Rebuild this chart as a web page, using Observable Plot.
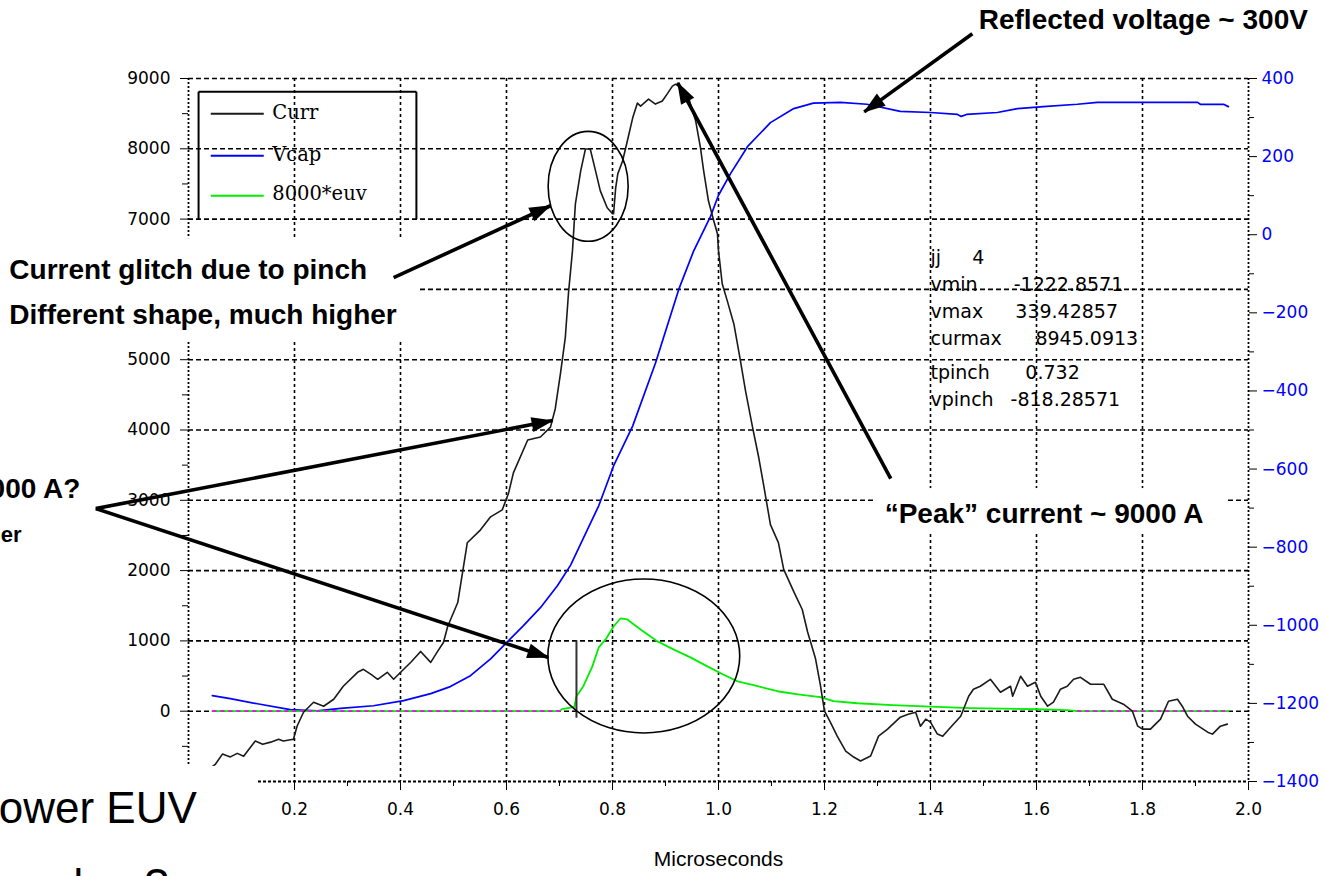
<!DOCTYPE html>
<html><head><meta charset="utf-8">
<script src="https://cdn.jsdelivr.net/npm/d3@7"></script>
<script src="https://cdn.jsdelivr.net/npm/@observablehq/plot@0.6"></script>
<style>
html,body{margin:0;padding:0;background:#fff;}
#chart{width:1325px;height:876px;overflow:hidden;}
</style></head><body><div id="chart"></div>
<script>
// ---------------- data ----------------
const currTime = [0.045,0.051,0.064,0.079,0.092,0.104,0.126,0.140,0.155,0.170,0.179,0.198,0.205,0.217,0.236,0.255,0.274,0.292,0.319,0.330,0.345,0.357,0.375,0.387,0.406,0.420,0.438,0.457,0.470,0.481,0.489,0.508,0.526,0.551,0.570,0.592,0.604,0.613,0.640,0.664,0.683,0.692,0.702,0.711,0.717,0.7245,0.730,0.740,0.749,0.758,0.768,0.777,0.790,0.800,0.802,0.806,0.810,0.819,0.828,0.838,0.847,0.853,0.868,0.881,0.894,0.903,0.913,0.919,0.932,0.942,0.947,0.957,0.966,0.972,0.981,0.991,0.998,1.000,1.007,1.017,1.029,1.041,1.051,1.064,1.076,1.085,1.098,1.113,1.123,1.142,1.158,1.168,1.183,1.192,1.200,1.211,1.224,1.240,1.255,1.268,1.287,1.302,1.319,1.343,1.358,1.372,1.381,1.391,1.400,1.413,1.423,1.438,1.457,1.472,1.481,1.494,1.513,1.532,1.551,1.555,1.570,1.583,1.598,1.608,1.621,1.632,1.645,1.658,1.670,1.683,1.702,1.727,1.743,1.764,1.781,1.791,1.800,1.815,1.834,1.849,1.866,1.875,1.885,1.900,1.923,1.932,1.947,1.960];
const currAmps = [-790,-752,-610,-650,-600,-640,-425,-470,-440,-400,-425,-400,-210,-15,128,70,170,355,553,596,520,454,553,454,596,700,850,695,850,978,1205,1546,2396,2580,2765,2864,3105,3390,3857,3900,4041,4303,4811,5319,5953,6551,7218,7686,7998,7998,7686,7402,7161,7076,7076,7445,7643,7827,8111,8437,8650,8608,8707,8636,8679,8778,8891,8919,8863,8792,8636,8395,8012,7686,7260,6976,6792,6551,6080,5826,5509,5001,4557,4049,3605,3224,2653,2399,2018,1701,1447,1130,749,383,0,-156,-355,-567,-652,-709,-638,-355,-255,-85,-43,-14,-213,-113,-156,-326,-355,-227,-71,213,312,355,454,270,355,213,497,355,411,213,71,128,312,355,454,482,383,383,170,99,0,-213,-255,-255,-113,142,170,71,-71,-184,-298,-326,-213,-184];

const vcapTime = [0.045,0.079,0.130,0.192,0.243,0.287,0.349,0.406,0.457,0.494,0.532,0.570,0.602,0.632,0.664,0.696,0.721,0.774,0.802,0.838,0.881,0.925,0.953,0.985,1.000,1.023,1.055,1.098,1.142,1.179,1.230,1.280,1.343,1.400,1.451,1.458,1.468,1.526,1.564,1.613,1.677,1.715,1.796,1.904,1.909,1.953,1.962];
const vcapVolts = [-1180,-1188,-1201,-1216,-1219,-1213,-1206,-1193,-1175,-1157,-1129,-1086,-1042,-1001,-955,-899,-846,-694,-592,-490,-329,-140,-42,47,101,157,226,287,323,337,339,334,316,313,308,303,308,313,323,328,334,339,339,339,334,334,328];

const euvTime = [0.045,0.700,0.705,0.728,0.732,0.745,0.762,0.774,0.787,0.802,0.815,0.828,0.853,0.885,0.915,0.947,0.979,1.008,1.036,1.074,1.111,1.150,1.192,1.217,1.262,1.328,1.425,1.475,1.602,1.658,1.677,1.962];
const euvScaled = [0,0,30,60,213,355,638,907,1021,1205,1319,1305,1163,993,879,766,638,525,425,355,284,240,199,142,113,85,57,43,28,14,0,0];

const xTicks = [0.2,0.4,0.6,0.8,1.0,1.2,1.4,1.6,1.8,2.0];
const xMinorTicks = [0.1,0.3,0.5,0.7,0.9,1.1,1.3,1.5,1.7,1.9];
const leftGridTicks = [0,1000,2000,3000,4000,5000,6000,7000,8000,9000];
const leftLabelTicks = [0,1000,2000,3000,4000,5000,7000,8000,9000]; // 6000 is covered on the slide
const leftMinorTicks = [-500,500,1500,2500,3500,4500,5500,6500,7500,8500];
const rightTicks = [400,200,0,-200,-400,-600,-800,-1000,-1200,-1400];
const rightMinorTicks = [300,100,-100,-300,-500,-700,-900,-1100,-1300];

const seriesNames = ["Curr","Vcap","8000*euv"];
const seriesColors = ["#1a1a1a","#0000ff","#00ee00"];
const statNames = ["jj","vmin","vmax","curmax","tpinch","vpinch"];
const statValues = ["4","-1222.8571","339.42857","8945.0913","0.732","-818.28571"];
const tPinch = 0.732;
const xLabel = "Microseconds";

// ---------------- scales ----------------
const I_MIN = -1000, I_MAX = 9000, V_MIN = -1400, V_MAX = 400;
const v2i = v => I_MIN + (v - V_MIN) * (I_MAX - I_MIN) / (V_MAX - V_MIN);
const i2v = i => V_MIN + (i - I_MIN) * (V_MAX - V_MIN) / (I_MAX - I_MIN);
const minus = v => v < 0 ? "\u2212" + Math.abs(v) : String(v);

const curr = currTime.map((t, k) => ({t, y: currAmps[k]}));
const vcap = vcapTime.map((t, k) => ({t, y: v2i(vcapVolts[k])}));
const euv = euvTime.map((t, k) => ({t, y: euvScaled[k]}));

// ---------------- annotation layout (slide overlay, in data units) ----------------
const zeroSegs = [[0.045, 0.705], [1.677, 1.962]];
const legendFrame = [[0.019, 7000, 0.019, 8812], [0.019, 8812, 0.430, 8812], [0.430, 8812, 0.430, 7000]];
const legendLineY = [8499, 7901, 7332];
const legendTextY = [8427, 7829, 7276];
const statRowY = [6366, 5982, 5598, 5214, 4731, 4347];
const statValueX = [1.479, 1.557, 1.560, 1.598, 1.579, 1.551];
const patches = [
  [-0.4, 0.434, 5271, 6722],
  [-0.4, 0.132, -2800, -786],
  [1.296, 1.960, 2541, 3167]
];
const boldStart = [
  {t: 1.491, y: 9708, text: "Reflected voltage ~ 300V", size: 28},
  {t: -0.338, y: 6153, text: "Current glitch due to pinch", size: 28},
  {t: -0.338, y: 5513, text: "Different shape, much higher", size: 28}
];
const boldEnd = [
  {t: 1.915, y: 2683, text: "\u201cPeak\u201d current ~ 9000 A", size: 28},
  {t: -0.204, y: 3039, text: "000 A?", size: 28},
  {t: -0.315, y: 2400, text: "er", size: 22}
];
const plainStart = [
  {t: -0.358, y: -1597, text: "ower EUV", size: 44},
  {t: -0.245, y: -2680, text: "due ?", size: 44}
];
const arrows = [
  [1.479, 9637, 1.275, 8525],
  [0.387, 6167, 0.683, 7190],
  [1.325, 3309, 0.923, 8939],
  [-0.175, 2882, 0.687, 4134],
  [-0.175, 2882, 0.679, 764]
];
const ellipses = [
  [0.755, 7459, 0.0755, 782],
  [0.860, 778, 0.181, 1095]
];

const chartFont = "DejaVu Sans";
const gridStyle = {stroke: "#000", strokeOpacity: 1, strokeWidth: 1.6};

const plot = Plot.plot({
  width: 1325, height: 876,
  marginLeft: 188, marginRight: 77, marginTop: 78, marginBottom: 95,
  x: {domain: [0, 2], axis: null, label: null},
  y: {domain: [I_MIN, I_MAX], axis: null, label: null},
  style: {fontFamily: chartFont, fontSize: "17px", background: "#fff", color: "#000", overflow: "hidden"},
  marks: [
    Plot.gridY({ticks: leftGridTicks, ...gridStyle, strokeDasharray: "5,3"}),
    Plot.gridX({ticks: xTicks.slice(0, -1), ...gridStyle, strokeDasharray: "3,3"}),
    Plot.ruleX([0, 2], {stroke: "#000", strokeWidth: 1.8, strokeDasharray: "2,2"}),
    Plot.ruleY([I_MIN], {stroke: "#000", strokeWidth: 1.8, strokeDasharray: "3,2"}),
    Plot.axisY({ticks: leftLabelTicks, anchor: "left", tickSize: 8, tickPadding: 10, fontSize: 17, tickFormat: d => String(d), label: null}),
    Plot.axisY({ticks: leftMinorTicks, anchor: "left", tickSize: 6, tickFormat: () => "", label: null}),
    Plot.axisY({ticks: rightTicks.map(v2i), anchor: "right", tickSize: 8, tickPadding: 5, fontSize: 17, fill: "#0000ff", stroke: "#000", tickFormat: d => minus(Math.round(i2v(d))), label: null}),
    Plot.axisY({ticks: rightMinorTicks.map(v2i), anchor: "right", tickSize: 5, tickFormat: () => "", label: null}),
    Plot.axisX({ticks: xTicks, anchor: "bottom", tickSize: 9, tickPadding: 12, fontSize: 17, tickFormat: d3.format(".1f"), label: null}),
    Plot.axisX({ticks: xMinorTicks, anchor: "bottom", tickSize: 5, tickFormat: () => "", label: null}),
    Plot.text([xLabel], {frameAnchor: "bottom", dy: 84, lineAnchor: "bottom", fontSize: 21, fontFamily: "Liberation Sans"}),
    // series
    Plot.line(vcap, {x: "t", y: "y", stroke: seriesColors[1], strokeWidth: 1.7}),
    Plot.line(euv, {x: "t", y: "y", stroke: seriesColors[2], strokeWidth: 1.8}),
    Plot.link(zeroSegs, {x1: d => d[0], x2: d => d[1], y1: () => 0, y2: () => 0, stroke: "#ff00ff", strokeWidth: 1.8, strokeDasharray: "4,4"}),
    Plot.ruleX([tPinch], {y1: () => -100, y2: () => 1000, stroke: "#333", strokeWidth: 2}),
    Plot.line(curr, {x: "t", y: "y", stroke: seriesColors[0], strokeWidth: 1.6}),
    // legend
    Plot.link(legendFrame, {x1: d => d[0], y1: d => d[1], x2: d => d[2], y2: d => d[3], stroke: "#000", strokeWidth: 2}),
    Plot.link(seriesNames, {x1: () => 0.042, x2: () => 0.142, y1: (d, k) => legendLineY[k], y2: (d, k) => legendLineY[k], stroke: (d, k) => seriesColors[k], strokeWidth: 2}),
    Plot.text(seriesNames, {x: () => 0.158, y: (d, k) => legendTextY[k], text: d => d, textAnchor: "start", lineAnchor: "bottom", fontFamily: "DejaVu Serif", fontSize: 19.5}),
    // stats box
    Plot.text(statNames, {x: () => 1.400, y: (d, k) => statRowY[k], text: d => d, textAnchor: "start", lineAnchor: "bottom", fontSize: 19}),
    Plot.text(statValues, {x: (d, k) => statValueX[k], y: (d, k) => statRowY[k], text: d => d, textAnchor: "start", lineAnchor: "bottom", fontSize: 19}),
    // slide overlay
    Plot.rect(patches, {x1: d => d[0], x2: d => d[1], y1: d => d[2], y2: d => d[3], fill: "#fff"}),
    Plot.text(boldStart, {x: "t", y: "y", text: "text", textAnchor: "start", lineAnchor: "bottom", fontFamily: "Liberation Sans", fontSize: "size", fontWeight: "bold", fill: "#000"}),
    Plot.text(boldEnd, {x: "t", y: "y", text: "text", textAnchor: "end", lineAnchor: "bottom", fontFamily: "Liberation Sans", fontSize: "size", fontWeight: "bold", fill: "#000"}),
    Plot.text(plainStart, {x: "t", y: "y", text: "text", textAnchor: "start", lineAnchor: "bottom", fontFamily: "Liberation Sans", fontSize: "size", fill: "#000"}),
    Plot.link(arrows, {x1: d => d[0], y1: d => d[1], x2: d => d[2], y2: d => d[3], stroke: "#000", strokeWidth: 3.6, markerEnd: "arrow"})
  ]
});

// filled arrow heads
plot.querySelectorAll("marker").forEach(m => {
  m.setAttribute("markerUnits", "userSpaceOnUse");
  m.setAttribute("viewBox", "-22 -8 23 16");
  m.setAttribute("markerWidth", "23");
  m.setAttribute("markerHeight", "16");
  m.setAttribute("refX", "0");
  m.setAttribute("refY", "0");
  m.setAttribute("fill", "#000");
  m.setAttribute("stroke", "none");
  m.innerHTML = '<path d="M-21,-7.5L1,0L-21,7.5Z" fill="#000" stroke="none"/>';
});

// ellipses around the glitch and the EUV pulse
const sx = plot.scale("x"), sy = plot.scale("y");
const svg = d3.select(plot);
ellipses.forEach(([t, y, rt, ry]) => {
  svg.append("ellipse")
    .attr("cx", sx.apply(t)).attr("cy", sy.apply(y))
    .attr("rx", sx.apply(t + rt) - sx.apply(t))
    .attr("ry", sy.apply(y) - sy.apply(y + ry))
    .attr("fill", "none").attr("stroke", "#000").attr("stroke-width", 1.6);
});

document.getElementById("chart").appendChild(plot);
</script>
</body></html>
